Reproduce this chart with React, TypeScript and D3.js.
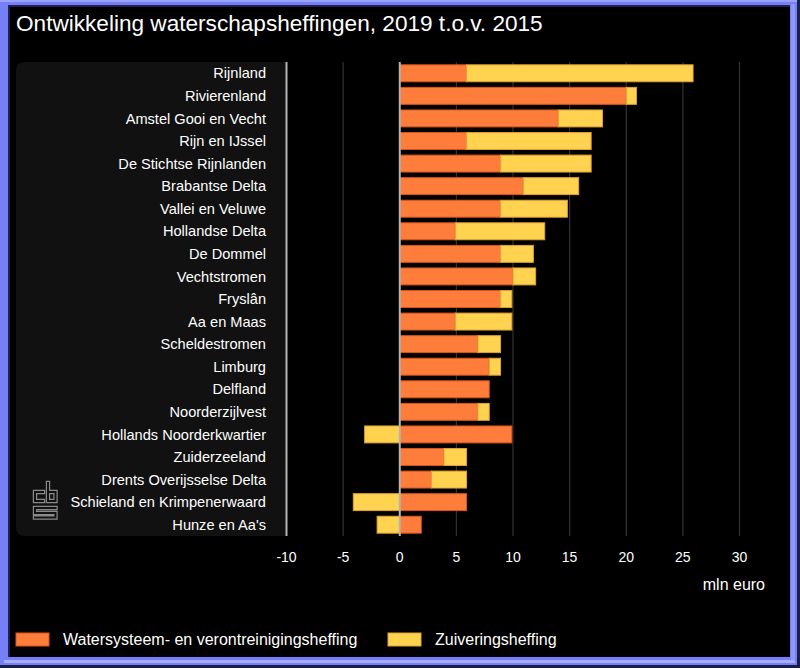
import React from "react";
import * as d3 from "d3";

const categories = [
  "Rijnland",
  "Rivierenland",
  "Amstel Gooi en Vecht",
  "Rijn en IJssel",
  "De Stichtse Rijnlanden",
  "Brabantse Delta",
  "Vallei en Veluwe",
  "Hollandse Delta",
  "De Dommel",
  "Vechtstromen",
  "Fryslân",
  "Aa en Maas",
  "Scheldestromen",
  "Limburg",
  "Delfland",
  "Noorderzijlvest",
  "Hollands Noorderkwartier",
  "Zuiderzeeland",
  "Drents Overijsselse Delta",
  "Schieland en Krimpenerwaard",
  "Hunze en Aa's",
];

// mln euro
const watersysteem = [5.9, 20, 14, 5.9, 8.9, 10.9, 8.9, 4.9, 8.9, 10, 8.9, 4.9, 6.9, 7.9, 7.9, 6.9, 9.9, 3.9, 2.8, 5.9, 1.9];
const zuivering = [20, 0.9, 3.9, 11, 8, 4.9, 5.9, 7.9, 2.9, 2, 1, 5, 2, 1, 0, 1, -3.1, 2, 3.1, -4.1, -2];

const seriesNames = ["Watersysteem- en verontreinigingsheffing", "Zuiveringsheffing"];
const seriesKeys = ["ws", "zv"];
const ticks = [-10, -5, 0, 5, 10, 15, 20, 25, 30];

const fills = ["#ff7d3b", "#ffd34f"];
const strokes = ["#d9551c", "#e0a236"];

const W = 800;
const H = 668;
const FONT = "'Liberation Sans', Arial, sans-serif";

export default function App() {
  const rows = categories.map((c, i) => ({ cat: c, ws: watersysteem[i], zv: zuivering[i] }));
  const stacked = d3
    .stack<any>()
    .keys(seriesKeys)
    .offset(d3.stackOffsetDiverging)(rows);

  const x = d3.scaleLinear().domain([-10, 30]).range([286.5, 739.5]);
  const y = d3
    .scaleBand<string>()
    .domain(categories)
    .range([62, 536])
    .paddingInner(0.25)
    .paddingOuter(0.125);

  const top = 62;
  const bottom = 536;

  return (
    <div style={{ position: "fixed", left: 0, top: 0 }}>
      <svg width={W} height={H} style={{ display: "block", fontFamily: FONT }}>
        {/* frame */}
        <rect x={0} y={0} width={W} height={H} fill="#1b1f48" />
        <rect x={0} y={0} width={797} height={665} fill="#7580f6" />
        <rect x={0} y={0} width={797} height={2} fill="#9aa2ff" />
        <rect x={791} y={4} width={4} height={659} fill="#8e98ff" />
        <rect x={4} y={660} width={791} height={3} fill="#a6acff" />
        <rect x={8} y={5} width={782} height={652} fill="#000" />
        <rect x={8} y={5} width={782} height={2} fill="#1d2050" />
        <rect x={8} y={5} width={2} height={652} fill="#1d2050" />

        <text x={16} y={31} fill="#fff" fontSize={22.6}>
          Ontwikkeling waterschapsheffingen, 2019 t.o.v. 2015
        </text>

        {/* label panel */}
        <path
          d={`M${16 + 9},${top} H286 V${bottom} H${16 + 9} Q16,${bottom} 16,${bottom - 9} V${top + 9} Q16,${top} ${16 + 9},${top} Z`}
          fill="#111111"
        />

        {/* grid */}
        {ticks.map((t) => (
          <line
            key={t}
            x1={x(t)}
            x2={x(t)}
            y1={top}
            y2={bottom}
            stroke={t === -10 ? "#b4b4b4" : "#333"}
            strokeWidth={t === -10 ? 2 : 1.2}
          />
        ))}

        {/* bars */}
        {stacked.map((s, si) => (
          <g key={s.key}>
            {s.map((d: any, i: number) => {
              const x0 = x(Math.min(d[0], d[1]));
              const x1 = x(Math.max(d[0], d[1]));
              if (x1 - x0 < 0.01) return null;
              return (
                <rect
                  key={i}
                  x={x0}
                  y={y(d.data.cat)!}
                  width={x1 - x0}
                  height={y.bandwidth()}
                  fill={fills[si]}
                  stroke={strokes[si]}
                  strokeWidth={1}
                />
              );
            })}
          </g>
        ))}

        {/* zero line */}
        <line x1={x(0)} x2={x(0)} y1={top} y2={bottom} stroke="#b4b4b4" strokeWidth={2} />

        {/* category labels */}
        {categories.map((c) => (
          <text
            key={c}
            x={266}
            y={y(c)! + y.bandwidth() / 2}
            dy="0.35em"
            textAnchor="end"
            fill="#fff"
            fontSize={14.6}
          >
            {c}
          </text>
        ))}

        {/* tick labels */}
        {ticks.map((t) => (
          <text key={t} x={x(t)} y={562} textAnchor="middle" fill="#fff" fontSize={14}>
            {t}
          </text>
        ))}
        <text x={765} y={590} textAnchor="end" fill="#fff" fontSize={16}>
          mln euro
        </text>

        {/* cbs logo */}
        <g transform="translate(33,482)" fill="none" strokeLinejoin="miter" strokeLinecap="square">
          <path d="M10,10 H2 V19 H10 M15,1 V19 H22.5 V10 H15 M22.5,26 H2 V31 H22.5 V35.5 H2" stroke="#8a8a8a" strokeWidth={4.4} />
          <path d="M10,10 H2 V19 H10 M15,1 V19 H22.5 V10 H15 M22.5,26 H2 V31 H22.5 V35.5 H2" stroke="#111" strokeWidth={2} />
        </g>

        {/* legend */}
        {seriesNames.map((n, i) => {
          const lx = i === 0 ? 16 : 388;
          return (
            <g key={n}>
              <rect x={lx} y={633} width={33} height={13} fill={fills[i]} stroke={strokes[i]} strokeWidth={1} />
              <text x={lx + 47} y={645} fill="#fff" fontSize={16}>
                {n}
              </text>
            </g>
          );
        })}
      </svg>
    </div>
  );
}
